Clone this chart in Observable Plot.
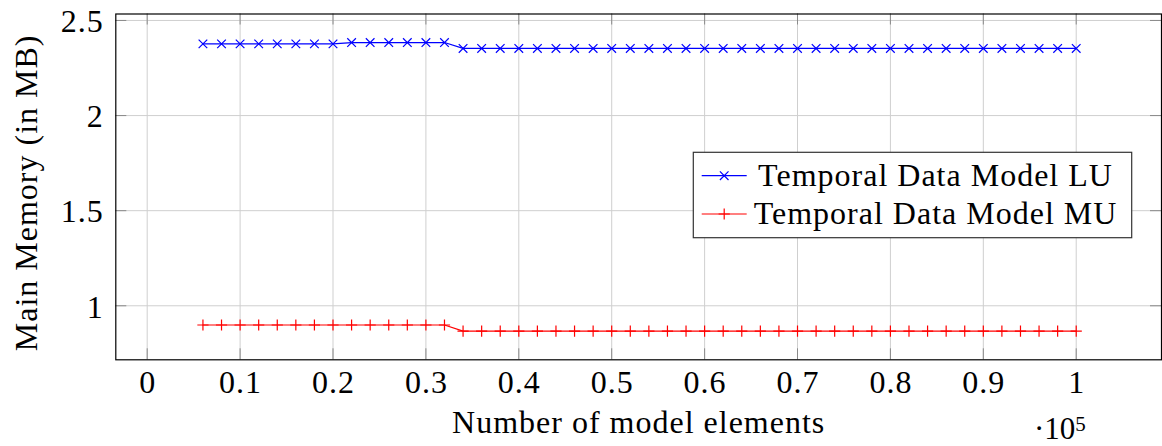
<!DOCTYPE html>
<html>
<head>
<meta charset="utf-8">
<script src="https://cdn.jsdelivr.net/npm/d3@7"></script>
<script src="https://cdn.jsdelivr.net/npm/@observablehq/plot@0.6"></script>
<style>
  html, body { margin: 0; padding: 0; background: #fff; }
  #chart { width: 1162px; height: 446px; }
  #chart svg text { letter-spacing: 1px; }
  #chart svg text.note { letter-spacing: 0; }
</style>
</head>
<body>
<div id="chart"></div>
<script>
// ---- data ----
const elements = [
  6000, 8000, 10000, 12000, 14000, 16000, 18000, 20000, 22000, 24000, 26000, 28000,
  30000, 32000, 34000, 36000, 38000, 40000, 42000, 44000, 46000, 48000, 50000, 52000,
  54000, 56000, 58000, 60000, 62000, 64000, 66000, 68000, 70000, 72000, 74000, 76000,
  78000, 80000, 82000, 84000, 86000, 88000, 90000, 92000, 94000, 96000, 98000, 100000
];
const memoryLU = [
  2.377, 2.377, 2.377, 2.377, 2.377, 2.377, 2.377, 2.377, 2.384, 2.384, 2.384, 2.384,
  2.384, 2.384, 2.353, 2.353, 2.353, 2.353, 2.353, 2.353, 2.353, 2.353, 2.353, 2.353,
  2.353, 2.353, 2.353, 2.353, 2.353, 2.353, 2.353, 2.353, 2.353, 2.353, 2.353, 2.353,
  2.353, 2.353, 2.353, 2.353, 2.353, 2.353, 2.353, 2.353, 2.353, 2.353, 2.353, 2.353
];
const memoryMU = [
  0.899, 0.899, 0.899, 0.899, 0.899, 0.899, 0.899, 0.899, 0.899, 0.899, 0.899, 0.899,
  0.899, 0.899, 0.867, 0.867, 0.867, 0.867, 0.867, 0.867, 0.867, 0.867, 0.867, 0.867,
  0.867, 0.867, 0.867, 0.867, 0.867, 0.867, 0.867, 0.867, 0.867, 0.867, 0.867, 0.867,
  0.867, 0.867, 0.867, 0.867, 0.867, 0.867, 0.867, 0.867, 0.867, 0.867, 0.867, 0.867
];
const seriesNames = ["Temporal Data Model LU", "Temporal Data Model MU"];
const seriesColors = ["#0000ff", "#ff0000"];
const seriesSymbols = ["times", "plus"];
const xTicks = [0, 0.1, 0.2, 0.3, 0.4, 0.5, 0.6, 0.7, 0.8, 0.9, 1];
const xTickLabels = ["0", "0.1", "0.2", "0.3", "0.4", "0.5", "0.6", "0.7", "0.8", "0.9", "1"];
const yTicks = [1, 1.5, 2, 2.5];
const yTickLabels = ["1", "1.5", "2", "2.5"];
const xLabel = "Number of model elements";
const xScaleNote = "10";
const xScaleExp = "5";
const yLabel = "Main Memory (in MB)";

// ---- table ----
const rows = [];
elements.forEach((e, i) => {
  rows.push({series: seriesNames[0], x: e / 1e5, y: memoryLU[i]});
  rows.push({series: seriesNames[1], x: e / 1e5, y: memoryMU[i]});
});
const lu = rows.filter(d => d.series === seriesNames[0]);
const mu = rows.filter(d => d.series === seriesNames[1]);

const FONT = "'Liberation Serif', 'Times New Roman', serif";
const FS = 32;
const W = 1162, H = 446;
const mL = 115.3, mR = 1, mT = 13.5, mB = 86.7;
const innerH = H - mT - mB;
const innerW = W - mL - mR;
const tickLen = 11;

const chart = Plot.plot({
  width: W,
  height: H,
  marginLeft: mL,
  marginRight: mR,
  marginTop: mT,
  marginBottom: mB,
  style: {fontFamily: FONT, fontSize: FS + "px", background: "#fff", color: "#000"},
  x: {domain: [-0.0338, 1.0918], axis: null},
  y: {domain: [0.716, 2.534], axis: null},
  marks: [
    // grid
    Plot.ruleX(xTicks, {x: d => d, stroke: "#cfcfcf", strokeWidth: 1}),
    Plot.ruleY(yTicks, {y: d => d, stroke: "#cfcfcf", strokeWidth: 1}),
    // inward ticks (bottom/top, left/right)
    Plot.ruleX(xTicks, {x: d => d, insetTop: innerH - tickLen, stroke: "#8a8a8a", strokeWidth: 1}),
    Plot.ruleX(xTicks, {x: d => d, insetBottom: innerH - tickLen, stroke: "#8a8a8a", strokeWidth: 1}),
    Plot.ruleY(yTicks, {y: d => d, insetRight: innerW - tickLen, stroke: "#8a8a8a", strokeWidth: 1}),
    Plot.ruleY(yTicks, {y: d => d, insetLeft: innerW - tickLen, stroke: "#8a8a8a", strokeWidth: 1}),
    // tick labels
    Plot.text(xTicks, {x: d => d, text: (d, i) => xTickLabels[i], frameAnchor: "bottom", lineAnchor: "bottom", dy: 33.4, dx: 0.5, fontSize: FS, fill: "#000"}),
    Plot.text(yTicks, {y: d => d, text: (d, i) => yTickLabels[i], frameAnchor: "left", textAnchor: "end", dx: -12, dy: 1.5, fontSize: FS, fill: "#000"}),
    // axis labels
    Plot.text([xLabel], {text: d => d, frameAnchor: "bottom", lineAnchor: "bottom", dy: 73, fontSize: FS, fill: "#000"}),
    Plot.text([yLabel], {text: d => d, frameAnchor: "left", textAnchor: "middle", rotate: -90, lineAnchor: "bottom", dx: -79, dy: 6, fontSize: FS, fill: "#000"}),
    // data
    Plot.line(lu, {x: "x", y: "y", stroke: seriesColors[0], strokeWidth: 1.2}),
    Plot.dot(lu, {x: "x", y: "y", symbol: seriesSymbols[0], r: 4, stroke: seriesColors[0], strokeWidth: 1.2}),
    Plot.line(mu, {x: "x", y: "y", stroke: seriesColors[1], strokeWidth: 1.2}),
    Plot.dot(mu, {x: "x", y: "y", symbol: seriesSymbols[1], r: 3.7, stroke: seriesColors[1], strokeWidth: 1.2}),
    Plot.frame({stroke: "#000", strokeWidth: 1.2})
  ]
});

const svg = d3.select(chart);

// x scale note ·10^5
const note = svg.append("text")
  .attr("class", "note")
  .attr("x", 1034).attr("y", 439)
  .attr("text-anchor", "start")
  .attr("font-family", FONT).attr("font-size", 31).attr("fill", "#000");
note.append("tspan").text("\u00B7" + xScaleNote);
note.append("tspan").attr("font-size", 21).attr("dy", -8).text(xScaleExp);

// legend
const lg = svg.append("g");
lg.append("rect")
  .attr("x", 693.3).attr("y", 152.3).attr("width", 438.4).attr("height", 85.4)
  .attr("fill", "#fff").attr("stroke", "#333").attr("stroke-width", 1.2);
const rowY = [175.7, 214];
seriesNames.forEach((name, i) => {
  const g = lg.append("g");
  g.append("line")
    .attr("x1", 701.7).attr("x2", 746.7).attr("y1", rowY[i]).attr("y2", rowY[i])
    .attr("stroke", seriesColors[i]).attr("stroke-width", 1.2);
  const sym = seriesSymbols[i] === "times" ? d3.symbolTimes : d3.symbolPlus;
  const r = i === 0 ? 4 : 3.7;
  g.append("path")
    .attr("d", d3.symbol(sym, Math.PI * r * r)())
    .attr("transform", `translate(724.2,${rowY[i]})`)
    .attr("fill", "none").attr("stroke", seriesColors[i]).attr("stroke-width", 1.2);
  g.append("text")
    .attr("x", 935.5).attr("y", rowY[i] + 10)
    .attr("text-anchor", "middle")
    .attr("font-family", FONT).attr("font-size", FS).attr("fill", "#000")
    .text(name);
});

document.getElementById("chart").appendChild(chart);
</script>
</body>
</html>
